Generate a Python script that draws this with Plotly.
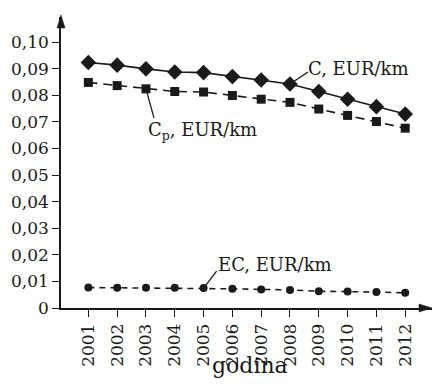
import plotly.graph_objects as go

# Years on the horizontal axis
years = [2001, 2002, 2003, 2004, 2005, 2006, 2007, 2008, 2009, 2010, 2011, 2012]

# Cost per kilometre, EUR/km
cost_c = [0.0923, 0.0913, 0.0899, 0.0887, 0.0885, 0.0870, 0.0857, 0.0842,
          0.0814, 0.0785, 0.0757, 0.0729]
cost_cp = [0.0848, 0.0836, 0.0824, 0.0814, 0.0812, 0.0799, 0.0785, 0.0773,
           0.0748, 0.0724, 0.0701, 0.0676]
cost_ec = [0.0077, 0.0076, 0.0076, 0.0076, 0.0075, 0.0072, 0.0070, 0.0068,
           0.0063, 0.0062, 0.0060, 0.0057]

# Y tick values and their labels (decimal comma)
y_ticks = [0.00, 0.01, 0.02, 0.03, 0.04, 0.05, 0.06, 0.07, 0.08, 0.09, 0.10]
y_tick_text = ["0", "0,01", "0,02", "0,03", "0,04", "0,05", "0,06", "0,07",
               "0,08", "0,09", "0,10"]

# Series labels
label_c = "C, EUR/km"
label_cp = "C<sub>p</sub>, EUR/km"
label_ec = "EC, EUR/km"
x_title = "godina"

FONT = "DejaVu Serif"
INK = "#1a1a1a"

fig = go.Figure()

fig.add_trace(go.Scatter(
    x=years, y=cost_c, mode="lines+markers",
    line=dict(color=INK, width=1.6),
    marker=dict(symbol="diamond", size=12, color=INK),
    cliponaxis=False, showlegend=False))

fig.add_trace(go.Scatter(
    x=years, y=cost_cp, mode="lines+markers",
    line=dict(color=INK, width=1.6, dash="9px,6px"),
    marker=dict(symbol="square", size=9, color=INK),
    cliponaxis=False, showlegend=False))

fig.add_trace(go.Scatter(
    x=years, y=cost_ec, mode="lines+markers",
    line=dict(color=INK, width=1.6, dash="6px,5px"),
    marker=dict(symbol="circle", size=8, color=INK),
    cliponaxis=False, showlegend=False))

# Leader lines from a series point out to its label (pixel offsets)
def leader(x, y, dx, dy):
    fig.add_shape(type="line", xref="x", yref="y",
                  xsizemode="pixel", ysizemode="pixel",
                  xanchor=x, yanchor=y, x0=0, y0=0, x1=dx, y1=dy,
                  line=dict(color=INK, width=1.3))

def label(x, y, text, dx, dy):
    fig.add_annotation(x=x, y=y, xref="x", yref="y", text=text,
                       showarrow=False, xanchor="left", yanchor="middle",
                       xshift=dx, yshift=dy,
                       font=dict(family=FONT, size=18, color=INK))

leader(years[7], cost_c[7], 18, 12)
label(years[7], cost_c[7], label_c, 16, 16)

leader(years[2], cost_cp[2], 8, -29)
label(years[2], cost_cp[2], label_cp, 0, -42)

leader(years[4], cost_ec[4], 13, 17)
label(years[4], cost_ec[4], label_ec, 12, 24)

# Horizontal axis title, set just under the rotated year labels
fig.add_annotation(x=0.5, y=0, xref="paper", yref="paper", text=x_title,
                   showarrow=False, xanchor="center", yanchor="middle",
                   xshift=3, yshift=-57,
                   font=dict(family=FONT, size=22, color=INK))

# Arrowheads at the ends of both axes
fig.add_shape(type="path", xref="paper", yref="paper",
              xsizemode="pixel", ysizemode="pixel", xanchor=0, yanchor=1,
              path="M0,2 L-4,-11 L4,-11 Z",
              fillcolor=INK, line=dict(color=INK, width=0.5))
fig.add_shape(type="path", xref="paper", yref="paper",
              xsizemode="pixel", ysizemode="pixel", xanchor=1, yanchor=0,
              path="M0,0 L-13,4 L-13,-4 Z",
              fillcolor=INK, line=dict(color=INK, width=0.5))

fig.update_xaxes(
    range=[2000.05, 2012.93], showgrid=False, zeroline=False,
    showline=True, linecolor=INK, linewidth=1.6,
    tickmode="array", tickvals=years, ticktext=[str(v) for v in years],
    tickangle=-90, ticks="outside", ticklen=7, tickwidth=1.4, tickcolor=INK,
    tickfont=dict(family=FONT, size=17, color=INK))

fig.update_yaxes(
    range=[0, 0.1094], showgrid=False, zeroline=False,
    showline=True, linecolor=INK, linewidth=1.6,
    tickmode="array", tickvals=y_ticks, ticktext=y_tick_text,
    ticks="outside", ticklen=7, tickwidth=1.4, tickcolor=INK,
    tickfont=dict(family=FONT, size=17, color=INK))

fig.update_layout(
    width=433, height=385,
    margin=dict(l=61, r=1, t=17, b=77),
    paper_bgcolor="white", plot_bgcolor="white",
    font=dict(family=FONT, color=INK),
    showlegend=False)

fig.write_html("out.html")
